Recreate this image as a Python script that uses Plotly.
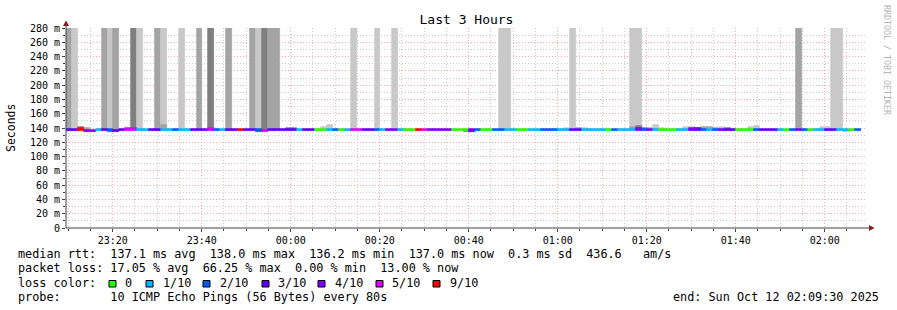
import plotly.graph_objects as go
from datetime import datetime, timedelta

# ---------------- data ----------------
start_time = datetime(2025, 10, 11, 23, 9, 30)
end_time = datetime(2025, 10, 12, 2, 9, 30)
step_seconds = 80

# lost pings (out of 10) per 80 s sample
loss = [3, 3, 9, 4, 4, 1, 3, 2, 3, 3,
        5, 5, 1, 1, 3, 3, 1, 1, 2, 1,
        1, 3, 3, 3, 5, 2, 1, 3, 3, 9,
        3, 3, 2, 5, 3, 3, 3, 3, 3, 1,
        3, 3, 0, 0, 1, 2, 0, 1, 5, 5,
        3, 3, 2, 1, 4, 4, 1, 0, 0, 9,
        5, 4, 4, 4, 4, 0, 0, 0, 4, 2,
        0, 0, 2, 2, 1, 1, 0, 0, 1, 1,
        2, 2, 2, 1, 1, 3, 3, 1, 1, 1,
        1, 0, 2, 1, 1, 1, 4, 2, 4, 1,
        0, 0, 0, 1, 1, 4, 3, 2, 1, 2,
        4, 3, 3, 0, 0, 0, 2, 3, 3, 3,
        1, 0, 2, 4, 2, 0, 1, 1, 3, 3,
        1, 1, 0, 2]

# median round-trip time per sample (ms)
median_ms = [137.2] * len(loss)
median_adjust = {2: 138.3, 3: 136.0, 4: 136.0, 7: 136.2, 8: 136.0,
                 10: 138.0, 11: 138.0, 24: 138.0, 32: 136.2, 33: 136.0,
                 68: 136.3, 96: 137.8, 105: 137.8, 106: 137.8}
for k, v in median_adjust.items():
    median_ms[k] = v

# tall smoke (values beyond the 280 ms top), shade 1 light / 2 mid / 3 dark
tall_index = [0, 1, 6, 7, 8, 11, 12, 15, 16, 19, 22, 24, 27, 31, 32, 33, 34, 35,
              48, 52, 55, 73, 74, 85, 95, 96, 123, 129, 130]
tall_shade = [2, 1, 2, 1, 2, 3, 1, 2, 1, 1, 2, 3, 2, 2, 1, 3, 2, 2,
              1, 1, 1, 1, 1, 1, 1, 1, 2, 1, 1]
tall_top_ms = 300

# small smoke above the median
bump_index = [2, 3, 16, 37, 38, 43, 44, 84, 86, 87, 95, 96, 97, 98, 99, 100,
              104, 105, 106, 107, 108, 109, 110, 111, 115, 116, 127, 128]
bump_top_ms = [141, 140, 144, 140, 140, 141.5, 144, 140, 139.5, 139.5, 141, 143,
               140.5, 140, 144, 140.5, 141, 141, 140.5, 142, 141, 140.5, 142, 140,
               141.5, 143.5, 141, 141]
bump_shade = [3, 2, 2, 3, 3, 1, 1, 1, 2, 1, 2, 3, 3, 2, 1, 1,
              1, 1, 3, 2, 2, 2, 1, 3, 1, 1, 1, 1]

# small smoke below the median
low_index = [0, 1, 15, 47, 57, 67, 68, 131]
low_bottom_ms = [135.5, 135.5, 135.5, 135.5, 135.5, 134.8, 134.8, 135.0]
low_shade = [2, 1, 2, 1, 1, 3, 3, 1]

loss_colors = {0: "#26ff00", 1: "#00b8ff", 2: "#0059ff", 3: "#5e00ff",
               4: "#7e00ff", 5: "#dd00ff", 9: "#ff0000"}
legend_levels = [0, 1, 2, 3, 4, 5, 9]
legend_labels = ["0", "1/10", "2/10", "3/10", "4/10", "5/10", "9/10"]
shade_colors = {1: "#c8c8c8", 2: "#a4a4a4", 3: "#7f7f7f"}

y_ticks = [0, 20, 40, 60, 80, 100, 120, 140, 160, 180, 200, 220, 240, 260, 280]
y_ticktext = ["0"] + [f"{v} m" for v in y_ticks[1:]]

# ---------------- figure ----------------
W, H = 897, 310
L, R, T, B = 66, 30, 28, 82
PW, PH = W - L - R, H - T - B


def px(x):
    return (x - L) / PW


def py(y):
    return (H - B - y) / PH


times = [start_time + timedelta(seconds=step_seconds * i) for i in range(len(loss))]
bar_w = step_seconds * 1000
seam = 0.7  # outline in the fill colour hides antialiasing seams between bars

fig = go.Figure()


def add_bars(xs, base, heights, colors):
    fig.add_trace(go.Bar(
        x=xs, base=base, y=heights, width=bar_w, offset=0,
        marker=dict(color=colors, line=dict(width=seam, color=colors)),
        hoverinfo="skip", showlegend=False))


# tall smoke
add_bars([times[i] for i in tall_index],
         [median_ms[i] for i in tall_index],
         [tall_top_ms - median_ms[i] for i in tall_index],
         [shade_colors[s] for s in tall_shade])

# bumps above median
add_bars([times[i] for i in bump_index],
         [median_ms[i] for i in bump_index],
         [t - median_ms[i] for t, i in zip(bump_top_ms, bump_index)],
         [shade_colors[s] for s in bump_shade])

# smoke below median
add_bars([times[i] for i in low_index],
         low_bottom_ms,
         [median_ms[i] - b for b, i in zip(low_bottom_ms, low_index)],
         [shade_colors[s] for s in low_shade])

# median line coloured by loss
band = 3.6
add_bars(times, [m - band / 2 for m in median_ms], [band] * len(median_ms),
         [loss_colors[l] for l in loss])

mono = "DejaVu Sans Mono"
grid_minor = "#cccccc"
grid_major = "#ffa5a5"
axis_col = "#404040"

fig.update_layout(
    width=W, height=H,
    margin=dict(l=L, r=R, t=T, b=B, pad=0),
    paper_bgcolor="white", plot_bgcolor="white",
    barmode="overlay", bargap=0,
    showlegend=False,
    font=dict(family=mono, size=10, color="black"),
    title=dict(text="Last 3 Hours", x=0.5, xanchor="center", xref="paper",
               y=1 - 19 / H, yanchor="middle", font=dict(family=mono, size=13, color="black")),
)

fig.update_xaxes(
    type="date", range=[start_time, end_time],
    tickmode="linear", tick0="2025-10-11 00:00:00", dtick=20 * 60 * 1000,
    tickformat="%H:%M", showgrid=True, gridcolor=grid_major, griddash="1px,2px", gridwidth=1,
    zeroline=False, showline=False,
    ticks="outside", ticklen=3, tickcolor=axis_col, tickwidth=1,
    tickfont=dict(family=mono, size=10, color="black"),
    minor=dict(tick0="2025-10-11 00:00:00", dtick=5 * 60 * 1000, ticks="outside",
               ticklen=2, tickcolor=axis_col, showgrid=True, gridcolor=grid_minor,
               griddash="1px,2px", gridwidth=1),
    fixedrange=True,
)
fig.update_yaxes(
    range=[0, 280], tickmode="array", tickvals=y_ticks, ticktext=y_ticktext,
    showgrid=True, gridcolor=grid_major, griddash="1px,2px", gridwidth=1,
    zeroline=False, showline=False,
    ticks="outside", ticklen=3, tickcolor=axis_col, tickwidth=1,
    tickfont=dict(family=mono, size=10, color="black"),
    minor=dict(tickmode="linear", tick0=0, dtick=10, ticks="outside", ticklen=2,
               tickcolor=axis_col, showgrid=True, gridcolor=grid_minor,
               griddash="1px,2px", gridwidth=1),
    fixedrange=True,
)

shapes = []
# axis lines
shapes.append(dict(type="line", xref="paper", yref="paper", x0=0, x1=px(871), y0=0, y1=0,
                   line=dict(color=axis_col, width=1), layer="above"))
shapes.append(dict(type="line", xref="paper", yref="paper", x0=0, x1=0, y0=0, y1=py(24),
                   line=dict(color=axis_col, width=1), layer="above"))
# arrows
arrow_col = "#8b1a1a"
shapes.append(dict(type="path", xref="paper", yref="paper",
                   path=f"M {px(63)},{py(26)} L {px(69)},{py(26)} L {px(66)},{py(20.5)} Z",
                   fillcolor=arrow_col, line=dict(color=arrow_col, width=0), layer="above"))
shapes.append(dict(type="path", xref="paper", yref="paper",
                   path=f"M {px(869)},{py(225)} L {px(869)},{py(231)} L {px(874.5)},{py(228)} Z",
                   fillcolor=arrow_col, line=dict(color=arrow_col, width=0), layer="above"))

# legend squares
sq_x = [109, 146, 203, 262, 318, 376, 433]
for xs, lvl in zip(sq_x, legend_levels):
    shapes.append(dict(type="rect", xref="paper", yref="paper",
                       x0=px(xs), x1=px(xs + 7), y0=py(287), y1=py(280.5),
                       fillcolor=loss_colors[lvl], line=dict(color="black", width=1)))
fig.update_layout(shapes=shapes)

ann = []
ann.append(dict(text="Seconds", x=px(11), y=py(128), xref="paper", yref="paper",
                textangle=-90, showarrow=False, font=dict(family=mono, size=11.5, color="black"),
                xanchor="center", yanchor="middle"))
ann.append(dict(text="RRDTOOL / TOBI OETIKER", x=px(887), y=py(60), xref="paper", yref="paper",
                textangle=90, showarrow=False, font=dict(family=mono, size=8.3, color="#b4b4b4"),
                xanchor="center", yanchor="middle"))

lf = dict(family=mono, size=11.8, color="black")
lines = [
    (254, "median rtt:  137.1 ms avg  138.0 ms max  136.2 ms min  137.0 ms now  0.3 ms sd  436.6   am/s"),
    (268, "packet loss: 17.05 % avg  66.25 % max  0.00 % min  13.00 % now"),
    (283, "loss color:"),
    (297, "probe:       10 ICMP Echo Pings (56 Bytes) every 80s"),
]
for yy, txt in lines:
    ann.append(dict(text=txt.replace(" ", "&nbsp;"), x=px(16), y=py(yy), xref="paper", yref="paper",
                    showarrow=False, xanchor="left", yanchor="middle", font=lf))
lab_x = [123, 161, 218, 276, 333, 390, 448]
for xl, lab in zip(lab_x, legend_labels):
    ann.append(dict(text=lab, x=px(xl), y=py(283), xref="paper", yref="paper",
                    showarrow=False, xanchor="left", yanchor="middle", font=lf))
ann.append(dict(text="end: Sun Oct 12 02:09:30 2025".replace(" ", "&nbsp;"), x=px(881), y=py(297),
                xref="paper", yref="paper", showarrow=False, xanchor="right", yanchor="middle", font=lf))
fig.update_layout(annotations=ann)

fig.write_html("out.html")
